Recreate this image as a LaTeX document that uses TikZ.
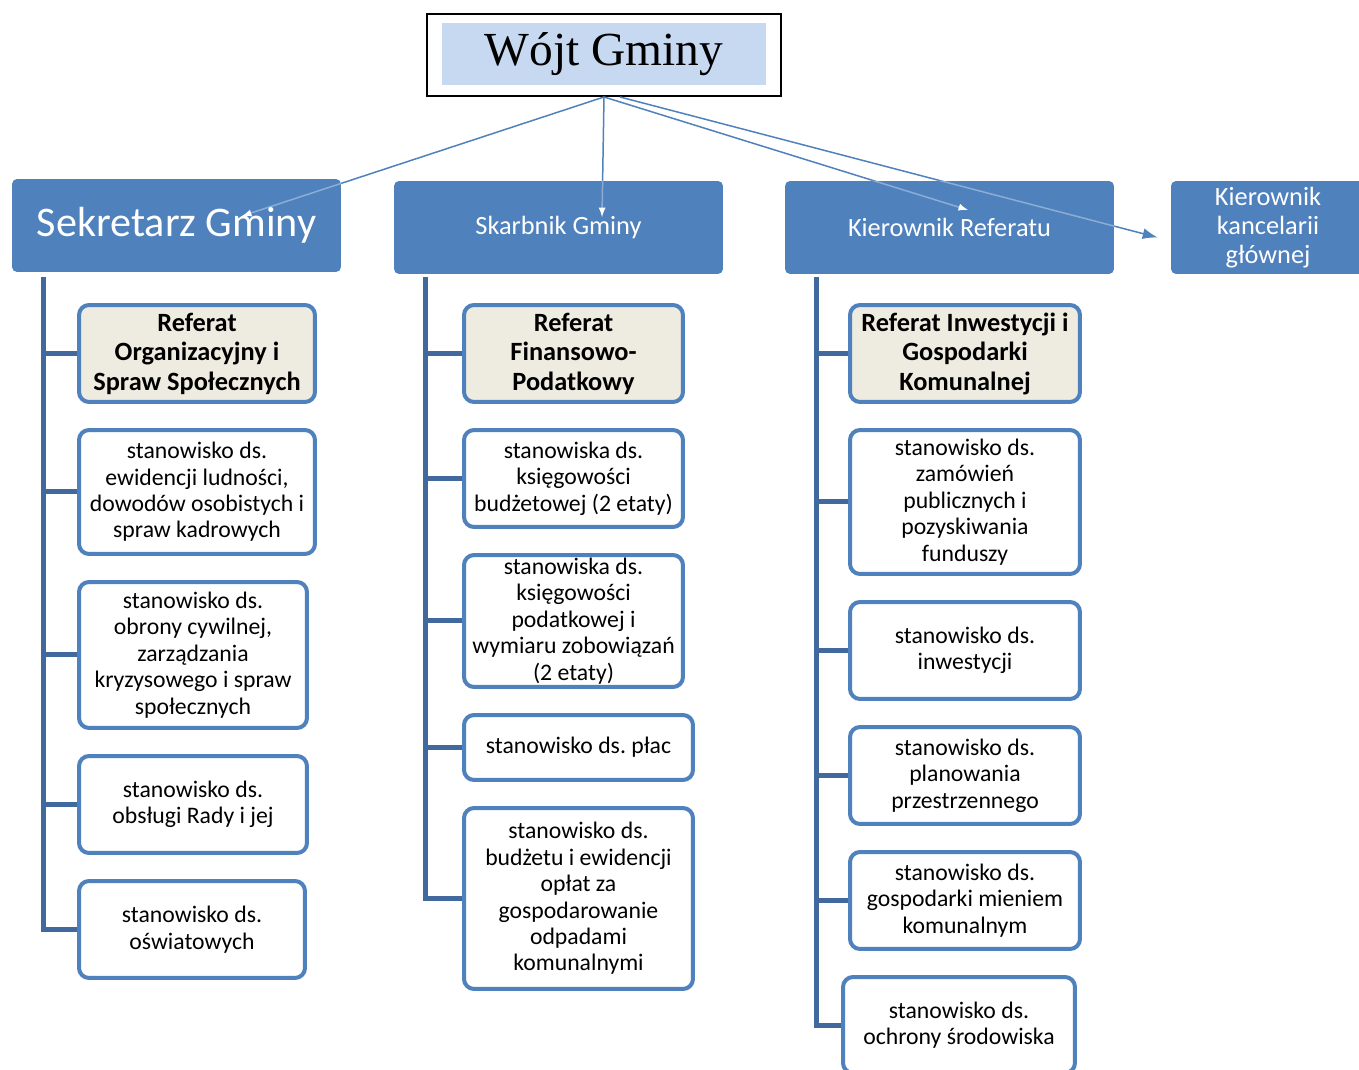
\documentclass[tikz,border=0pt]{standalone}
\usepackage{fontspec}
\setmainfont{Carlito}
\newfontfamily\wojtfont{Liberation Serif}
\usetikzlibrary{arrows,arrows.meta,calc}
\frenchspacing
\definecolor{headblue}{HTML}{4F81BD}
\definecolor{trunkblue}{HTML}{41699D}
\definecolor{wojtfill}{HTML}{C6D9F1}
\definecolor{refbeige}{HTML}{EEECE1}
\tikzset{
	head/.style    = {fill=headblue, text=white,
		rounded corners=0.1cm, align=center, inner sep=0pt,
		minimum width=6.58cm, minimum height=1.86cm},
	unit/.style    = {draw=headblue, line width=0.08cm, fill=white, rounded corners=0.2cm,
		align=center, inner sep=0pt, font=\fontsize{13.5}{15}\selectfont},
	referat/.style = {unit, fill=refbeige, font=\bfseries\fontsize{15}{16.8}\selectfont},
	trunk/.style   = {draw=trunkblue, line width=0.1cm}, % Branch line
	link/.style    = {draw=headblue, line width=0.03cm}, % Line from the top
	ghost/.style   = {draw=white, draw opacity=0.35, line width=0.03cm} % Line seen through a head
}
\newcommand{\headfont}{\fontsize{15}{16.5}\selectfont}

\begin{document}
\begin{tikzpicture}[x=0.02cm, y=-0.02cm, >=latex]
\useasboundingbox (0,0) rectangle (1359,1070);

% Top box
\draw
node at (604,55)[draw=black, line width=0.04cm, minimum width=7.08cm, minimum height=1.64cm] (wojt) {}
node at (604,54)[fill=wojtfill, minimum width=6.48cm, minimum height=1.24cm, inner sep=0pt,
	font=\wojtfont\fontsize{27}{30}\selectfont] (wojttxt) {Wójt Gminy};

% Lines from the top box (drawn under the heads)
\draw[link, ->] (wojt.south) -- ($(wojt.south)+(-362,119)$) coordinate (sekend);
\draw[link, ->] (wojt.south) -- ($(wojt.south)+(-2,120)$) coordinate (skarbend);
\draw[link, ->] (wojt.south) -- ($(wojt.south)+(364,113)$) coordinate (krefend);

% Heads
\draw
node at (176.5,225.5)[head, font=\fontsize{24}{26}\selectfont] (sek) {Sekretarz Gminy}
node at (558.5,227.5)[head, font=\headfont] (skarb) {Skarbnik Gminy}
node at (949.5,227.5)[head, font=\headfont] (kref) {Kierownik Referatu}
node at (1268,227.5)[head, font=\headfont, minimum width=3.88cm] (kanc) {Kierownik\\kancelarii\\głównej};

\draw[link, -{Latex[length=0.3cm, width=0.22cm]}] ($(wojt.south)+(16,0)$) -- ($(kanc.west)+(-13,10)$) coordinate (kancend);

% Lines seen through the heads
\begin{scope}
\clip (sek.south west) rectangle (sek.north east)
	(skarb.south west) rectangle (skarb.north east)
	(kref.south west) rectangle (kref.north east);
\draw[ghost, ->] (wojt.south) -- (sekend);
\draw[ghost, ->] (wojt.south) -- (skarbend);
\draw[ghost, ->] (wojt.south) -- (krefend);
\draw[ghost] ($(wojt.south)+(16,0)$) -- (kancend);
\end{scope}

% Column of the Sekretarz
\draw
node at (197,353.5)[referat, minimum width=4.72cm, minimum height=1.94cm] (a1) {Referat\\Organizacyjny i\\Spraw Społecznych}
node at (197,492)[unit, minimum width=4.72cm, minimum height=2.48cm] (a2) {stanowisko ds.\\ewidencji ludności,\\dowodów osobistych i\\spraw kadrowych}
node at (193,655)[unit, minimum width=4.56cm, minimum height=2.92cm] (a3) {stanowisko ds.\\obrony cywilnej,\\zarządzania\\kryzysowego i spraw\\społecznych}
node at (193,804.5)[unit, minimum width=4.56cm, minimum height=1.94cm] (a4) {stanowisko ds.\\obsługi Rady i jej}
node at (192,929.5)[unit, minimum width=4.52cm, minimum height=1.94cm] (a5) {stanowisko ds.\\oświatowych};

% Column of the Skarbnik
\draw
node at (573.5,353.5)[referat, minimum width=4.38cm, minimum height=1.94cm] (b1) {Referat\\Finansowo-\\Podatkowy}
node at (573.5,478.5)[unit, minimum width=4.38cm, minimum height=1.94cm] (b2) {stanowiska ds.\\księgowości\\budżetowej (2 etaty)}
node at (573.5,621)[unit, minimum width=4.38cm, minimum height=2.64cm] (b3) {stanowiska ds.\\księgowości\\podatkowej i\\wymiaru zobowiązań\\(2 etaty)}
node at (578.5,747.5)[unit, minimum width=4.58cm, minimum height=1.30cm] (b4) {stanowisko ds. płac}
node at (578.5,898.5)[unit, minimum width=4.58cm, minimum height=3.62cm] (b5) {stanowisko ds.\\budżetu i ewidencji\\opłat za\\gospodarowanie\\odpadami\\komunalnymi};

% Column of the Kierownik Referatu
\draw
node at (965,353.5)[referat, minimum width=4.6cm, minimum height=1.94cm] (c1) {Referat Inwestycji i\\Gospodarki\\Komunalnej}
node at (965,502)[unit, minimum width=4.6cm, minimum height=2.88cm] (c2) {stanowisko ds.\\zamówień\\publicznych i\\pozyskiwania\\funduszy}
node at (965,650.5)[unit, minimum width=4.6cm, minimum height=1.94cm] (c3) {stanowisko ds.\\inwestycji}
node at (965,775.5)[unit, minimum width=4.6cm, minimum height=1.94cm] (c4) {stanowisko ds.\\planowania\\przestrzennego}
node at (965,900.5)[unit, minimum width=4.6cm, minimum height=1.94cm] (c5) {stanowisko ds.\\gospodarki mieniem\\komunalnym}
node at (959,1025)[unit, minimum width=4.64cm, minimum height=1.92cm] (c6) {stanowisko ds.\\ochrony środowiska};

% Branch lines
\coordinate (ta) at (43,277);
\coordinate (tb) at (425,277);
\coordinate (tc) at (816,277);
\draw[trunk] (ta) |- (a5.west);
\draw[trunk] (tb) |- (b5.west);
\draw[trunk] (tc) |- (c6.west);
\foreach \n in {a1,a2,a3,a4}
	\draw[trunk] (ta |- \n.west) -- (\n.west);
\foreach \n in {b1,b2,b3,b4}
	\draw[trunk] (tb |- \n.west) -- (\n.west);
\foreach \n in {c1,c2,c3,c4,c5}
	\draw[trunk] (tc |- \n.west) -- (\n.west);
\end{tikzpicture}
\end{document}
